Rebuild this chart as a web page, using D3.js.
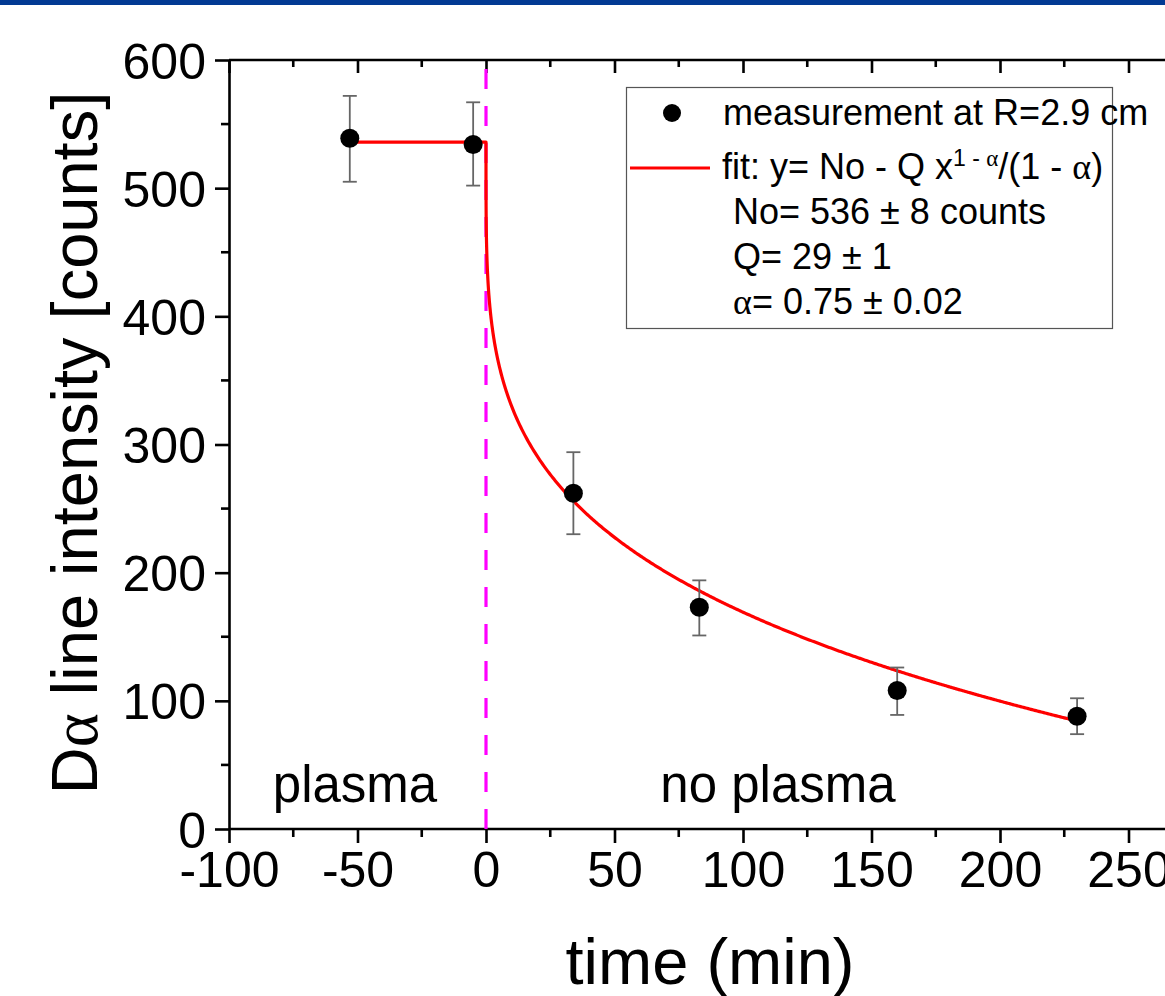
<!DOCTYPE html>
<html>
<head>
<meta charset="utf-8">
<script src="https://cdn.jsdelivr.net/npm/d3@7"></script>
<style>
  html, body { margin: 0; padding: 0; background: #fff; }
  svg { display: block; font-family: "Liberation Sans", Arial, sans-serif; }
</style>
</head>
<body>
<svg id="chart" width="1165" height="996"></svg>
<script>
// Measured Dα line intensity before and after the plasma is switched off
const times      = [-53, -5, 34, 83, 160, 230];
const intensity  = [539, 534, 262, 173, 108, 88];
const errLow     = [505, 502, 230, 151, 89, 74];
const errHigh    = [572, 567, 294, 194, 126, 102];

// Fit parameters: y = No - Q x^(1-α)/(1-α) for t > 0, constant No before
const fitNo    = 536;
const fitQ     = 29;
const fitAlpha = 0.75;
const fitStart = -53;
const fitEnd   = 230;

const xTicks = [-100, -50, 0, 50, 100, 150, 200, 250];
const yTicks = [0, 100, 200, 300, 400, 500, 600];

const svg = d3.select("#chart");
const W = 1165, H = 996;

// header band
svg.append("rect").attr("x", 0).attr("y", 0).attr("width", W).attr("height", 5).attr("fill", "#023a93");

const x = d3.scaleLinear().domain([-100, 300]).range([229, 1257]);
const y = d3.scaleLinear().domain([0, 600]).range([829, 60]);

const axisColor = "#000";
const plainNum = d => String(d);   // ASCII hyphen for negatives

// minor ticks
const xMinor = d3.range(-100, 301, 25).filter(v => v % 50 !== 0);
const yMinor = d3.range(0, 601, 50).filter(v => v % 100 !== 0);

const axes = svg.append("g");

// bottom axis
const axBottom = d3.axisBottom(x).tickValues(xTicks).tickSize(14).tickSizeOuter(0).tickPadding(6).tickFormat(plainNum);
const gB = axes.append("g").attr("transform", `translate(0,${y(0)})`).call(axBottom);
gB.select(".domain").attr("d", `M${x(-100)},0H${x(300)}`);
gB.append("g").selectAll("line").data(xMinor).join("line")
  .attr("x1", d => x(d)).attr("x2", d => x(d)).attr("y1", 0).attr("y2", 8);

// top axis (ticks inward)
const axTop = d3.axisBottom(x).tickValues(xTicks).tickSize(13).tickSizeOuter(0).tickFormat("");
const gT = axes.append("g").attr("transform", `translate(0,${y(600)})`).call(axTop);
gT.select(".domain").attr("d", `M${x(-100)},0H${x(300)}`);
gT.append("g").selectAll("line").data(xMinor).join("line")
  .attr("x1", d => x(d)).attr("x2", d => x(d)).attr("y1", 0).attr("y2", 7);

// left axis
const axLeft = d3.axisLeft(y).tickValues(yTicks).tickSize(14).tickSizeOuter(0).tickPadding(9).tickFormat(plainNum);
const gL = axes.append("g").attr("transform", `translate(${x(-100)},0)`).call(axLeft);
gL.append("g").selectAll("line").data(yMinor).join("line")
  .attr("y1", d => y(d)).attr("y2", d => y(d)).attr("x1", 0).attr("x2", -8);

axes.selectAll(".domain").attr("stroke", axisColor).attr("stroke-width", 2.6);
axes.selectAll("line").attr("stroke", axisColor).attr("stroke-width", 2.6);
axes.selectAll("text").attr("fill", "#000").style("font-size", "50px").style("font-family", "'Liberation Sans', Arial, sans-serif");
gB.selectAll(".tick text").attr("dy", "0.76em");
gL.selectAll(".tick text").attr("dy", "0.36em");

// region separator at t = 0
svg.append("line")
  .attr("x1", x(0)).attr("x2", x(0)).attr("y1", y(0)).attr("y2", y(600))
  .attr("stroke", "#ff00ff").attr("stroke-width", 3.2).attr("stroke-dasharray", "20,17");

// fit curve
const fitPts = [[fitStart, fitNo], [0, fitNo]];
const xs = d3.range(0, 1, 0.002).concat(d3.range(1, 10, 0.05)).concat(d3.range(10, fitEnd, 0.5)).concat([fitEnd]);
xs.forEach(t => {
  const v = fitNo - fitQ * Math.pow(t, 1 - fitAlpha) / (1 - fitAlpha);
  fitPts.push([t, v]);
});
svg.append("path")
  .datum(fitPts)
  .attr("fill", "none").attr("stroke", "#ff0000").attr("stroke-width", 3.2).attr("stroke-linejoin", "round")
  .attr("d", d3.line().x(d => x(d[0])).y(d => y(d[1])));

// error bars and points
const pts = times.map((t, i) => ({ t, v: intensity[i], lo: errLow[i], hi: errHigh[i] }));
const eb = svg.append("g").attr("stroke", "#666").attr("stroke-width", 1.8);
eb.selectAll(".v").data(pts).join("line")
  .attr("x1", d => x(d.t)).attr("x2", d => x(d.t)).attr("y1", d => y(d.lo)).attr("y2", d => y(d.hi));
eb.selectAll(".capHi").data(pts).join("line")
  .attr("x1", d => x(d.t) - 7).attr("x2", d => x(d.t) + 7).attr("y1", d => y(d.hi)).attr("y2", d => y(d.hi));
eb.selectAll(".capLo").data(pts).join("line")
  .attr("x1", d => x(d.t) - 7).attr("x2", d => x(d.t) + 7).attr("y1", d => y(d.lo)).attr("y2", d => y(d.lo));

svg.append("g").selectAll("circle").data(pts).join("circle")
  .attr("cx", d => x(d.t)).attr("cy", d => y(d.v)).attr("r", 9.5).attr("fill", "#000");

// region labels
svg.append("text").attr("x", 355).attr("y", 802).attr("text-anchor", "middle")
  .style("font-size", "51px").text("plasma");
svg.append("text").attr("x", 778).attr("y", 802).attr("text-anchor", "middle")
  .style("font-size", "51px").text("no plasma");

// axis titles
svg.append("text").attr("x", 710).attr("y", 984).attr("text-anchor", "middle")
  .style("font-size", "65px").text("time (min)");

const yt = svg.append("text").attr("transform", "translate(97,443) rotate(-90)")
  .attr("text-anchor", "middle").style("font-size", "65px");
yt.append("tspan").text("D");
yt.append("tspan").style("font-family", "'Liberation Serif', serif").text("α");
yt.append("tspan").text(" line intensity [counts]");

// legend
const lg = svg.append("g");
lg.append("rect").attr("x", 626.5).attr("y", 87.5).attr("width", 486).attr("height", 241)
  .attr("fill", "#fff").attr("stroke", "#555").attr("stroke-width", 1.2);
lg.append("circle").attr("cx", 672).attr("cy", 113).attr("r", 9).attr("fill", "#000");
lg.append("line").attr("x1", 630).attr("x2", 710).attr("y1", 168).attr("y2", 168)
  .attr("stroke", "#ff0000").attr("stroke-width", 3.2);

const fs = "36px";
lg.append("text").attr("x", 723).attr("y", 125).style("font-size", fs).text("measurement at R=2.9 cm");

const fitLabel = lg.append("text").attr("x", 722).attr("y", 179).style("font-size", fs);
fitLabel.append("tspan").text("fit: y= No - Q x");
fitLabel.append("tspan").attr("dy", -13).style("font-size", "23px").text("1 - ");
fitLabel.append("tspan").style("font-size", "23px").style("font-family", "'Liberation Serif', serif").text("α");
fitLabel.append("tspan").attr("dy", 13).text("/(1 - ");
fitLabel.append("tspan").style("font-family", "'Liberation Serif', serif").text("α");
fitLabel.append("tspan").text(")");

lg.append("text").attr("x", 733).attr("y", 224).style("font-size", fs)
  .text(`No= ${fitNo} ± 8 counts`);
lg.append("text").attr("x", 733).attr("y", 269).style("font-size", fs)
  .text(`Q= ${fitQ} ± 1`);
const aLab = lg.append("text").attr("x", 733).attr("y", 314).style("font-size", fs);
aLab.append("tspan").style("font-family", "'Liberation Serif', serif").text("α");
aLab.append("tspan").text(`= ${fitAlpha.toFixed(2)} ± 0.02`);
</script>
</body>
</html>
